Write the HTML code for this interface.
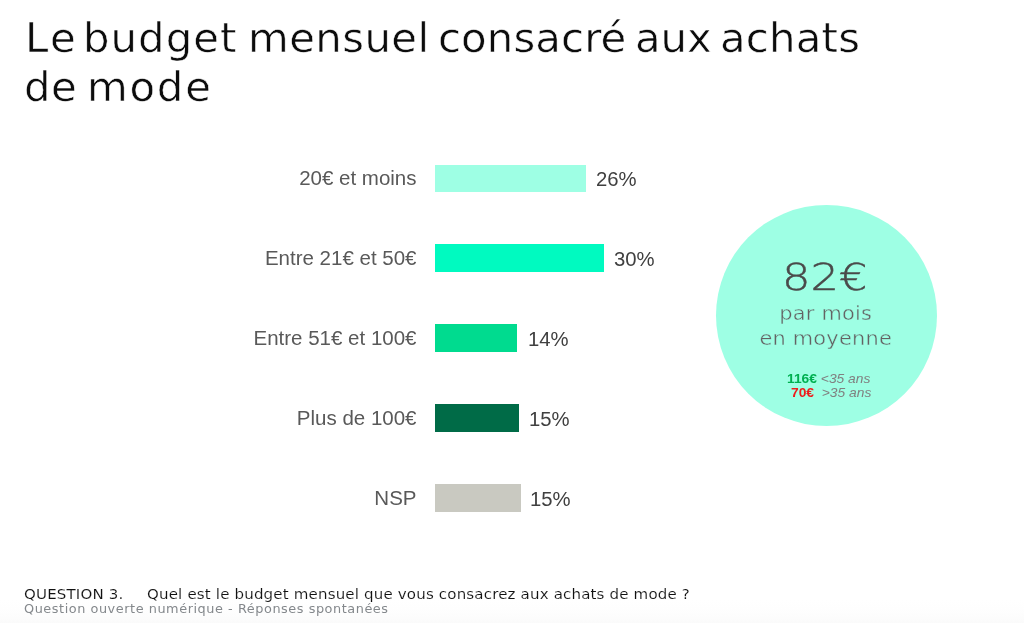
<!DOCTYPE html>
<html lang="fr">
<head>
<meta charset="utf-8">
<title>Le budget mensuel consacré aux achats de mode</title>
<style>
html,body{margin:0;padding:0;}
body{width:1024px;height:623px;position:relative;overflow:hidden;background:#fff;
  font-family:"Liberation Sans",sans-serif;}
.grad{position:absolute;left:0;top:600px;width:1024px;height:23px;
  background:linear-gradient(to bottom,#ffffff 0,#fefefe 40%,#fcfcfc 80%,#fafafa 100%);}
.title{position:absolute;left:0;top:13.5px;margin:0;font-family:"DejaVu Sans",sans-serif;
  font-weight:normal;font-size:40px;line-height:49.7px;color:#0c0c0c;white-space:nowrap;
  -webkit-text-stroke:0.5px #fff;}
.w{position:absolute;top:0;transform:scaleX(1.045);transform-origin:0 0;}
.w.l2{top:49.2px;}
#w1{left:24.5px;letter-spacing:2.4px}
#w2{left:83.00px;letter-spacing:1.00px}
#w3{left:248.00px;letter-spacing:0.40px}
#w4{left:438.00px;letter-spacing:0.12px}
#w5{left:635px;letter-spacing:0px}
#w6{left:720.00px;letter-spacing:0.20px}
#w7{left:23.6px;letter-spacing:0.4px}
#w8{left:87.00px;letter-spacing:1.70px}
.lbl{position:absolute;right:607.5px;font-size:20.5px;line-height:24px;color:#595959;white-space:nowrap;text-align:right;}
.bar{position:absolute;left:434.5px;height:27.8px;}
.val{position:absolute;font-size:20.3px;line-height:24px;margin-top:0.6px;color:#404040;white-space:nowrap;}
.circle{position:absolute;left:715.8px;top:204.5px;width:221.6px;height:221.6px;border-radius:50%;background:#9effe4;}
.c{position:absolute;left:714.2px;width:223.4px;text-align:center;white-space:nowrap;font-family:"DejaVu Sans",sans-serif;color:#595959;}
.big{top:253.2px;font-size:38px;line-height:48px;font-weight:200;color:#4a4a4a;-webkit-text-stroke:0.45px #4a4a4a;transform:scaleX(1.18);}
.mid{font-size:20px;line-height:24px;color:#636363;transform:scaleX(1.045);letter-spacing:0.2px;-webkit-text-stroke:0.4px #9effe4;}
.sm{position:absolute;font-size:12.4px;line-height:14px;white-space:nowrap;color:#808080;font-style:italic;transform:scaleX(1.115);transform-origin:0 0;}
.sm b{font-style:normal;}
.q{position:absolute;white-space:nowrap;font-family:"DejaVu Sans",sans-serif;transform:scaleX(1.045);transform-origin:0 0;}
.q1{top:584.5px;font-size:14.4px;line-height:18px;color:#111;-webkit-text-stroke:0.12px #fff;}
.q2{top:600.5px;font-size:11.8px;line-height:16px;color:#84888c;}
#q1a{left:23.7px;letter-spacing:0.15px}
#q1b{left:146.7px;letter-spacing:0.155px}
#q2a{left:24.2px;letter-spacing:0.5px;transform:scaleX(1.09)}
</style>
</head>
<body>
<div class="grad"></div>
<h1 class="title"><span class="w" id="w1">Le</span> <span class="w" id="w2">budget</span> <span class="w" id="w3">mensuel</span> <span class="w" id="w4">consacré</span> <span class="w" id="w5">aux</span> <span class="w" id="w6">achats</span> <span class="w l2" id="w7">de</span> <span class="w l2" id="w8">mode</span></h1>

<div class="lbl" style="top:166px">20€ et moins</div>
<div class="bar" style="top:164.5px;width:151.8px;background:#9effe4"></div>
<div class="val" style="left:596px;top:166px">26%</div>

<div class="lbl" style="top:246px">Entre 21€ et 50€</div>
<div class="bar" style="top:244.3px;width:169.5px;background:#00fac0"></div>
<div class="val" style="left:614px;top:246px">30%</div>

<div class="lbl" style="top:326px">Entre 51€ et 100€</div>
<div class="bar" style="top:324.4px;width:82.8px;background:#00db8f"></div>
<div class="val" style="left:528px;top:326px">14%</div>

<div class="lbl" style="top:406px">Plus de 100€</div>
<div class="bar" style="top:404.3px;width:84.6px;background:#006b47"></div>
<div class="val" style="left:529px;top:406px">15%</div>

<div class="lbl" style="top:486px">NSP</div>
<div class="bar" style="top:484.3px;width:86.3px;background:#c9c9c1"></div>
<div class="val" style="left:530px;top:486px">15%</div>

<div class="circle"></div>
<div class="c big" style="margin-left:-1px">82€</div>
<div class="c mid" style="top:301px">par mois</div>
<div class="c mid" style="top:326px">en moyenne</div>
<div class="sm" style="left:786.5px;top:371.5px"><b style="color:#00b050">116€</b> &lt;35 ans</div>
<div class="sm" style="left:790.5px;top:386.3px"><b style="color:#ee1c1c">70€</b>&nbsp; &gt;35 ans</div>

<div class="q q1" id="q1a">QUESTION 3.</div>
<div class="q q1" id="q1b">Quel est le budget mensuel que vous consacrez aux achats de mode ?</div>
<div class="q q2" id="q2a">Question ouverte numérique - Réponses spontanées</div>
</body>
</html>
